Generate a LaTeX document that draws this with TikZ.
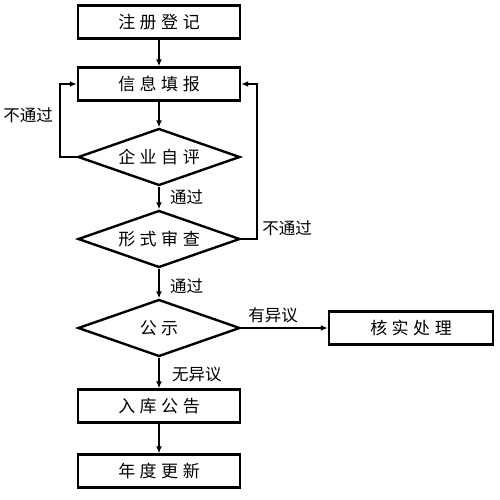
\documentclass[tikz,border=0pt]{standalone}
\usepackage{fontspec}
\newfontfamily\cjk{Noto Sans CJK SC}
\usetikzlibrary{shapes.geometric,arrows.meta}
\newcommand{\chgap}{\hspace{4.5pt}}
\begin{document}
\begin{tikzpicture}[x=1pt,y=-1pt,
  box/.style={draw,line width=2.4pt,minimum width=162pt,minimum height=33pt,inner sep=0pt,font=\cjk\fontsize{17}{17}\selectfont},
  dia/.style={draw,diamond,aspect=2.84,line width=2.4pt,minimum width=162pt,minimum height=57pt,inner sep=0pt,font=\cjk\fontsize{17}{17}\selectfont},
  conn/.style={line width=2pt,-{Latex[length=7pt,width=6pt]}},
  lbl/.style={font=\cjk\fontsize{16.5}{16.5}\selectfont,inner sep=0pt}]
\useasboundingbox (0,0) rectangle (499,500);
\node[box] (reg) at (159,22) {注\chgap 册\chgap 登\chgap 记};
\node[box] (fill) at (159,84) {信\chgap 息\chgap 填\chgap 报};
\node[dia] (self) at (159,157) {企\chgap 业\chgap 自\chgap 评};
\node[dia] (form) at (159,239) {形\chgap 式\chgap 审\chgap 查};
\node[dia] (pub) at (159,328) {公\chgap 示};
\node[box,minimum width=164pt] (check) at (411,328) {核\chgap 实\chgap 处\chgap 理};
\node[box] (db) at (159,406) {入\chgap 库\chgap 公\chgap 告};
\node[box] (year) at (159,471) {年\chgap 度\chgap 更\chgap 新};
\draw[conn] (reg) -- (fill);
\draw[conn] (fill) -- (self);
\draw[conn] (self) -- (form) node[lbl,pos=0.45,right=10pt] {通过};
\draw[conn] (form) -- (pub) node[lbl,pos=0.6,right=10pt] {通过};
\draw[conn] (pub) -- (db) node[lbl,pos=0.55,right=12pt] {无异议};
\draw[conn] (db) -- (year);
\draw[conn] (pub.east) -- (check.west) node[lbl,pos=0.37,above=4pt] {有异议};
\draw[conn] (self.west) -- (60,157) -- (60,84) -- (fill.west);
\draw[conn] (form.east) -- (257,239) -- (257,84) -- (fill.east);
\node[lbl] (nl) at (28,115) {不通过};
\node[lbl] (nr) at (287,228) {不通过};
\end{tikzpicture}
\end{document}
